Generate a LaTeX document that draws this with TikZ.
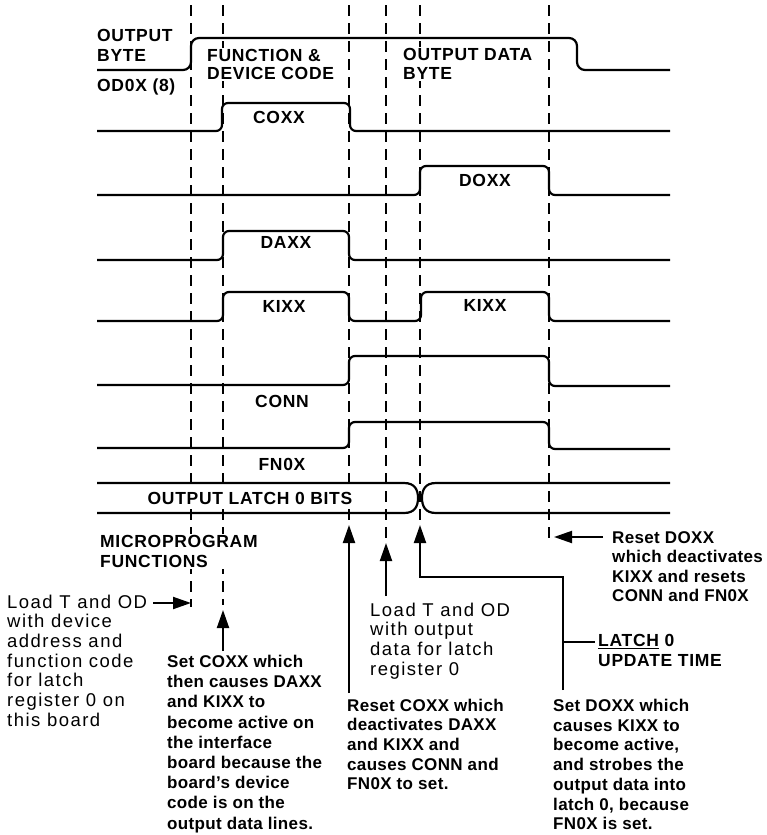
\documentclass[tikz,border=0pt]{standalone}
\usepackage{fontspec}
\setmainfont{Liberation Sans}
\newfontfamily\regfont[LetterSpace=8]{Liberation Sans}
\newfontfamily\capfont[LetterSpace=4]{Liberation Sans}
\newfontfamily\boldfont[LetterSpace=2]{Liberation Sans}
\usetikzlibrary{arrows.meta}
\tikzset{
  sig/.style={line width=2.2pt, rounded corners=6pt, line join=round},
  bus/.style={line width=2.2pt},
  guide/.style={line width=2pt, dash pattern=on 11pt off 7pt},
  pointer/.style={line width=2pt, -{Triangle[length=18pt,width=12pt]}},
  lead/.style={line width=2pt},
  lbl/.style={inner sep=0pt, anchor=base, font=\capfont\bfseries\fontsize{17.5}{18.5}\selectfont},
  lbll/.style={inner sep=0pt, anchor=north west, align=left, font=\capfont\bfseries\fontsize{17.5}{20}\selectfont},
  mask/.style={fill=white, inner sep=1.5pt},
  note/.style={inner sep=0pt, anchor=north west, align=left, font=\regfont\fontsize{18.5}{19.7}\selectfont},
  bnote/.style={inner sep=0pt, anchor=north west, align=left, font=\boldfont\bfseries\fontsize{17}{19.7}\selectfont},
}
\begin{document}
\begin{tikzpicture}[x=1pt,y=-1pt]
\useasboundingbox[fill=white] (0,0) rectangle (767,835);

% dashed guide lines
\draw[guide] (191,5) -- (191,607);
\draw[guide] (223,5) -- (223,605);
\draw[guide] (349,5) -- (349,524);
\draw[guide] (386,5) -- (386,541);
\draw[guide] (420,5) -- (420,524);
\draw[guide] (549,5) -- (549,545);

% signals
\draw[sig,rounded corners=8pt] (97,70) -- (191,70) -- (191,38) -- (577,38) -- (577,70) -- (670,70);
\draw[sig] (97,131) -- (222,131) -- (222,103) -- (350,103) -- (350,131) -- (670,131);
\draw[sig] (97,195) -- (420,195) -- (420,166) -- (549,166) -- (549,195) -- (670,195);
\draw[sig] (97,260) -- (223,260) -- (223,231) -- (349,231) -- (349,260) -- (670,260);
\draw[sig] (97,321) -- (223,321) -- (223,292) -- (349,292) -- (349,321) -- (421,321) -- (421,292) -- (549,292) -- (549,321) -- (670,321);
\draw[sig] (97,385) -- (349,385) -- (349,356) -- (549,356) -- (549,386) -- (670,386);
\draw[sig] (97,448) -- (349,448) -- (349,422) -- (549,422) -- (549,449) -- (670,449);

% output latch bus
\draw[bus] (97,483) -- (404,483) .. controls (415,483) and (418,490) .. (418,498)
  .. controls (418,506) and (415,513) .. (404,513) -- (97,513);
\draw[bus] (670,483) -- (436,483) .. controls (425,483) and (422,490) .. (422,498)
  .. controls (422,506) and (425,513) .. (436,513) -- (670,513);

% signal labels
\node[lbll] (ob) at (97,28.8) {OUTPUT\\BYTE};
\node[lbl, anchor=base west] (od) at (97,91.5) {OD0X (8)};
\node[lbll, mask, font=\capfont\bfseries\fontsize{17.5}{18.5}\selectfont] (fdc) at (205.5,47.3) {FUNCTION \&\\DEVICE CODE};
\node[lbll, mask, font=\capfont\bfseries\fontsize{17.5}{19}\selectfont] (odb) at (401.5,46.3) {OUTPUT DATA\\BYTE};
\node[lbl] (coxx) at (279,123.5) {COXX};
\node[lbl] (doxx) at (485,186.5) {DOXX};
\node[lbl] (daxx) at (286,248.5) {DAXX};
\node[lbl] (kixxa) at (284,312.5) {KIXX};
\node[lbl] (kixxb) at (485,311.5) {KIXX};
\node[lbl] (conn) at (282,407.5) {CONN};
\node[lbl] (fnox) at (282,470.5) {FN0X};
\node[lbl, mask] (olb) at (250,504.5) {OUTPUT LATCH 0 BITS};
\node[lbll, mask] (mpf) at (98.5,533.8) {MICROPROGRAM\\FUNCTIONS};
\node[lbll] (latch) at (598,634.3) {\underline{LATCH} 0\\UPDATE TIME};

% notes
\node[note] (n1) at (7,594.5) {Load T and OD\\with device\\address and\\function code\\for latch\\register 0 on\\this board};
\node[note] (n2) at (370,602.5) {Load T and OD\\with output\\data for latch\\register 0};
\node[bnote, font=\boldfont\bfseries\fontsize{17}{20.2}\selectfont] (n3) at (167,655) {Set COXX which\\then causes DAXX\\and KIXX to\\become active on\\the interface\\board because the\\board’s device\\code is on the\\output data lines.};
\node[bnote] (n4) at (347,698.6) {Reset COXX which\\deactivates DAXX\\and KIXX and\\causes CONN and\\FN0X to set.};
\node[bnote] (n5) at (553,699) {Set DOXX which\\causes KIXX to\\become active,\\and strobes the\\output data into\\latch 0, because\\FN0X is set.};
\node[bnote, font=\boldfont\bfseries\fontsize{17}{19.3}\selectfont] (n6) at (612,531.6) {Reset DOXX\\which deactivates\\KIXX and resets\\CONN and FN0X};

% pointer coordinates
\coordinate (a1s) at (153,603);  \coordinate (a1t) at (191,603);
\coordinate (a2s) at (223,651);  \coordinate (a2t) at (223,610);
\coordinate (a3s) at (349,693);  \coordinate (a3t) at (349,525);
\coordinate (a4s) at (386,596);  \coordinate (a4t) at (386,543);
\coordinate (a5s) at (563,690);  \coordinate (a5k) at (563,577);
\coordinate (a5j) at (420,577);  \coordinate (a5t) at (420,525);
\coordinate (l1s) at (563,642);  \coordinate (l1t) at (595,642);
\coordinate (a6s) at (603,537);  \coordinate (a6t) at (554,537);

\draw[pointer] (a1s) -- (a1t);
\draw[pointer] (a2s) -- (a2t);
\draw[pointer] (a3s) -- (a3t);
\draw[pointer] (a4s) -- (a4t);
\draw[pointer] (a5s) -- (a5k) -- (a5j) -- (a5t);
\draw[lead] (l1s) -- (l1t);
\draw[pointer] (a6s) -- (a6t);
\end{tikzpicture}
\end{document}
